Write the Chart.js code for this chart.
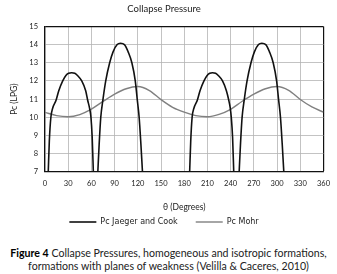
<!DOCTYPE html>
<html>
<head>
<meta charset="utf-8">
<script src="https://cdn.jsdelivr.net/npm/chart.js@4/dist/chart.umd.min.js"></script>
<style>
  html, body { margin: 0; padding: 0; background: #fff; }
  #wrap { position: relative; width: 337px; height: 236px; }
  #caption {
    width: 337px; text-align: center; font-family: Lato, sans-serif;
    font-size: 10.6px; line-height: 13px; color: #222; margin-top: 11px;
  }
  #caption b { font-weight: bold; color: #000; }
</style>
</head>
<body>
<div id="wrap"><canvas id="chart"></canvas></div>
<div id="caption"><b>Figure 4</b> Collapse Pressures, homogeneous and isotropic formations,<br>formations with planes of weakness (Velilla &amp; Caceres, 2010)</div>
<script>
// Pc Jaeger and Cook - four arcs, a null value breaks the line between them
const thetaJC = [
    4.2, 5.6, 7.6, 9.9, 14.4, 17.8, 22.9, 27, 30.5, 34.5, 38.5, 42, 47.5, 52.6, 55.1, 57.6, 59.4, 61, 62.5, 65,
    68.3, 70, 72.1, 75, 78.5, 83.6, 88, 93.3, 97.6, 102.7, 107.5, 112.3, 116.7, 119.2, 121.7, 124, 126, 156,
    187, 188.4, 190.2, 192.5, 197, 200.4, 205.5, 209.6, 213, 216.5, 220.5, 224, 229.5, 234.5, 237.5, 239.5, 240.8, 242.5, 244, 247.5,
    251, 252.7, 254.8, 257.7, 261.2, 266.3, 270.7, 276, 280.3, 285.4, 290.2, 295, 299.4, 301.9, 304.4, 306.7, 308.7
];
const pcJC = [
    7, 8.7, 10, 10.5, 10.95, 11.46, 12, 12.3, 12.42, 12.45, 12.42, 12.3, 12, 11.46, 10.95, 10.5, 10, 8.9, 7, null,
    7, 8.5, 10, 11, 12, 13, 13.6, 14, 14.07, 14, 13.6, 13, 12, 11, 10, 8.5, 7, null,
    7, 8.7, 10, 10.5, 10.95, 11.46, 12, 12.3, 12.42, 12.45, 12.42, 12.3, 12, 11.46, 10.95, 10.5, 10, 8.9, 7, null,
    7, 8.5, 10, 11, 12, 13, 13.6, 14, 14.07, 14, 13.6, 13, 12, 11, 10, 8.5, 7
];

// Pc Mohr
const thetaMohr = [0, 15, 30, 45, 60, 75, 90, 105, 120, 135, 150, 165, 180,
    195, 210, 225, 240, 255, 270, 285, 300, 315, 330, 345, 360];
const pcMohr = [10.27, 10.09, 10.03, 10.15, 10.45, 10.87, 11.27, 11.57, 11.69, 11.47, 10.97, 10.55, 10.28,
    10.09, 10.03, 10.16, 10.44, 10.88, 11.27, 11.57, 11.69, 11.48, 10.98, 10.57, 10.28];

const xMin = 0, xMax = 360, xStep = 30;
const yMin = 7, yMax = 15, yStep = 1;

const toPoints = (xs, ys) => xs.map((x, i) => ({ x: x, y: ys[i] }));

const FONT = 'Lato, sans-serif';
const gridCol = '#b4b4b4';

new Chart(document.getElementById('chart'), {
    type: 'line',
    data: {
        datasets: [
            {
                label: 'Pc Jaeger and Cook',
                data: toPoints(thetaJC, pcJC),
                borderColor: '#111',
                backgroundColor: '#111',
                borderWidth: 1.6,
                pointRadius: 0,
                pointStyle: 'line',
                cubicInterpolationMode: 'monotone',
                spanGaps: false,
                fill: false
            },
            {
                label: 'Pc Mohr',
                data: toPoints(thetaMohr, pcMohr),
                borderColor: '#808080',
                backgroundColor: '#808080',
                borderWidth: 1.4,
                pointRadius: 0,
                pointStyle: 'line',
                cubicInterpolationMode: 'monotone',
                fill: false
            }
        ]
    },
    options: {
        responsive: true,
        maintainAspectRatio: false,
        animation: false,
        parsing: false,
        layout: { padding: { left: 0, right: 9, top: 0, bottom: 0 } },
        plugins: {
            title: {
                display: true,
                text: 'Collapse Pressure',
                color: '#222',
                font: { family: FONT, size: 9.5, weight: 'normal' },
                padding: { top: 3, bottom: 12 }
            },
            legend: {
                position: 'bottom',
                labels: {
                    color: '#222',
                    font: { family: 'DejaVu Sans, sans-serif', size: 8 },
                    usePointStyle: true,
                    pointStyleWidth: 27,
                    boxHeight: 9,
                    padding: 18
                }
            },
            tooltip: { enabled: false }
        },
        scales: {
            x: {
                type: 'linear',
                min: xMin,
                max: xMax,
                ticks: { stepSize: xStep, color: '#222', font: { family: FONT, size: 7.5 }, padding: 7, maxRotation: 0 },
                grid: {
                    drawTicks: false,
                    color: (c) => (c.tick && c.tick.value === xMax ? '#111' : gridCol),
                    lineWidth: (c) => (c.tick && c.tick.value === xMax ? 1.2 : 0.8)
                },
                border: { color: '#111', width: 1.2 },
                title: { display: true, text: 'θ (Degrees)', color: '#222', font: { family: FONT, size: 8.5 }, padding: { top: 7, bottom: -12 } }
            },
            y: {
                min: yMin,
                max: yMax,
                afterFit: (scale) => { scale.width = 45; },
                ticks: { stepSize: yStep, color: '#222', font: { family: FONT, size: 7.5 }, padding: 7 },
                grid: {
                    drawTicks: false,
                    color: (c) => (c.tick && c.tick.value === yMax ? '#111' : gridCol),
                    lineWidth: (c) => (c.tick && c.tick.value === yMax ? 1.2 : 0.8)
                },
                border: { color: '#111', width: 1.2 },
                title: { display: true, text: 'Pc (LPG)', color: '#222', font: { family: FONT, size: 8.5 }, padding: { top: 9, bottom: 0 } }
            }
        }
    }
});
</script>
</body>
</html>
